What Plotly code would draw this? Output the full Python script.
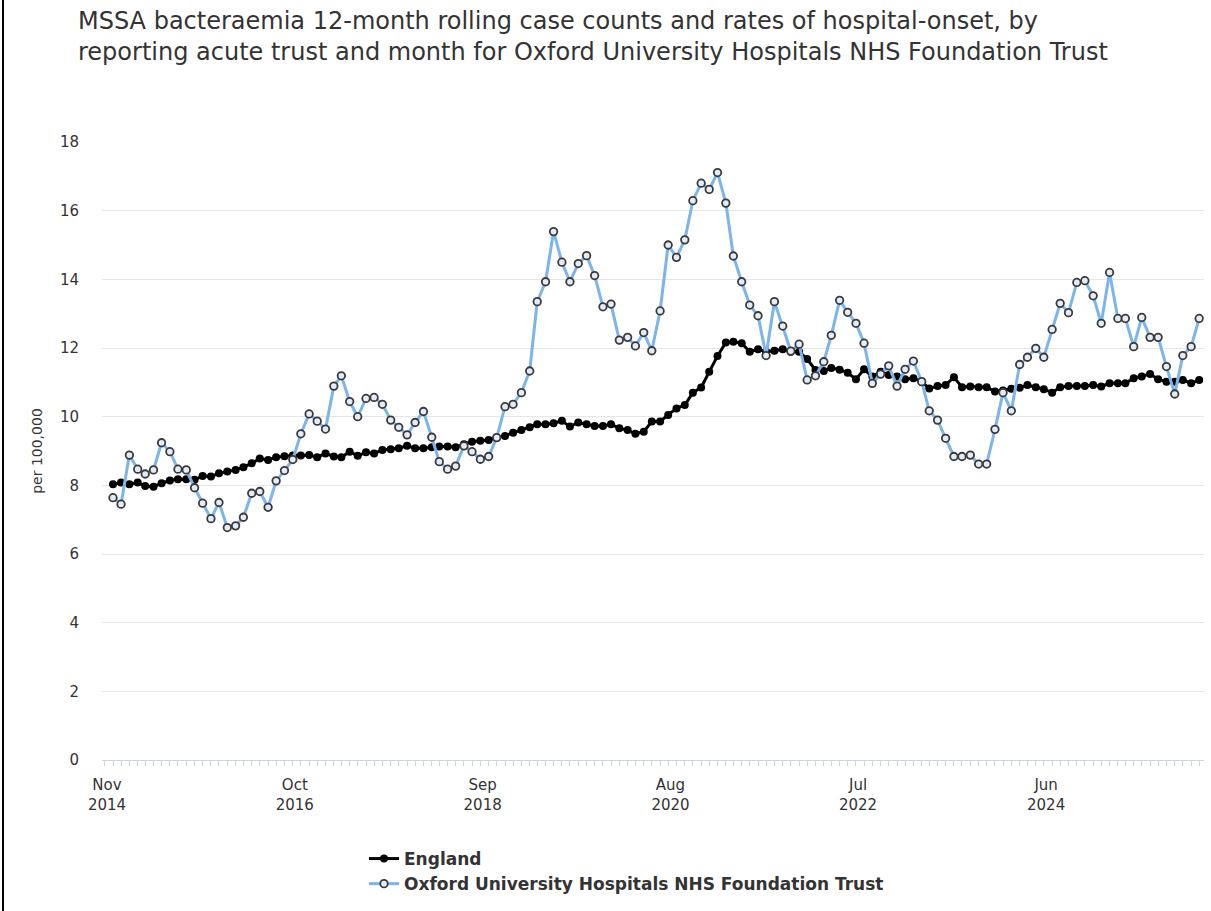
import pandas as pd
import plotly.graph_objects as go

months = pd.date_range("2014-11-01", periods=134, freq="MS")

england = [
    8.03, 8.08, 8.03, 8.08, 7.98, 7.96, 8.06, 8.14, 8.18, 8.18,
    8.16, 8.27, 8.26, 8.35, 8.40, 8.45, 8.53, 8.64, 8.78, 8.74,
    8.82, 8.85, 8.87, 8.87, 8.88, 8.82, 8.93, 8.84, 8.82, 8.98,
    8.86, 8.96, 8.93, 9.03, 9.05, 9.08, 9.15, 9.08, 9.08, 9.11,
    9.13, 9.13, 9.11, 9.20, 9.27, 9.30, 9.32, 9.39, 9.44, 9.53,
    9.61, 9.69, 9.78, 9.78, 9.81, 9.88, 9.71, 9.83, 9.78, 9.73,
    9.73, 9.78, 9.66, 9.61, 9.50, 9.56, 9.86, 9.86, 10.05, 10.24,
    10.34, 10.70, 10.85, 11.31, 11.77, 12.16, 12.18, 12.14, 11.89, 11.96,
    11.89, 11.92, 11.96, 11.89, 11.89, 11.68, 11.36, 11.33, 11.42, 11.37,
    11.28, 11.09, 11.38, 11.17, 11.31, 11.21, 11.17, 11.09, 11.12, 11.02,
    10.82, 10.89, 10.92, 11.15, 10.86, 10.88, 10.86, 10.86, 10.73, 10.76,
    10.81, 10.84, 10.92, 10.86, 10.80, 10.70, 10.86, 10.89, 10.89, 10.89,
    10.92, 10.88, 10.97, 10.97, 10.97, 11.12, 11.17, 11.24, 11.09, 11.02,
    11.02, 11.07, 10.97, 11.07,
]

oxford = [
    7.64, 7.45, 8.88, 8.47, 8.33, 8.45, 9.24, 8.98, 8.47, 8.45,
    7.93, 7.48, 7.03, 7.50, 6.77, 6.82, 7.07, 7.77, 7.82, 7.36,
    8.13, 8.43, 8.75, 9.50, 10.08, 9.87, 9.64, 10.89, 11.19, 10.44,
    10.00, 10.53, 10.56, 10.36, 9.90, 9.69, 9.47, 9.83, 10.15, 9.40,
    8.69, 8.47, 8.56, 9.15, 8.98, 8.76, 8.84, 9.39, 10.29, 10.36,
    10.70, 11.33, 13.35, 13.93, 15.39, 14.50, 13.93, 14.46, 14.69, 14.11,
    13.20, 13.28, 12.23, 12.31, 12.06, 12.45, 11.92, 13.08, 15.00, 14.64,
    15.15, 16.29, 16.80, 16.62, 17.11, 16.22, 14.68, 13.93, 13.25, 12.94,
    11.78, 13.35, 12.64, 11.91, 12.11, 11.07, 11.19, 11.60, 12.37, 13.39,
    13.04, 12.72, 12.14, 10.97, 11.24, 11.48, 10.89, 11.38, 11.62, 11.02,
    10.17, 9.90, 9.37, 8.84, 8.84, 8.88, 8.62, 8.62, 9.63, 10.70,
    10.17, 11.52, 11.73, 11.99, 11.73, 12.54, 13.30, 13.03, 13.91, 13.96,
    13.52, 12.72, 14.20, 12.86, 12.86, 12.04, 12.89, 12.31, 12.31, 11.46,
    10.66, 11.78, 12.04, 12.86,
]

tick_dates = ["2014-11-01", "2016-10-01", "2018-09-01", "2020-08-01", "2022-07-01", "2024-06-01"]
tick_labels = ["Nov<br>2014", "Oct<br>2016", "Sep<br>2018", "Aug<br>2020", "Jul<br>2022", "Jun<br>2024"]
y_ticks = [0, 2, 4, 6, 8, 10, 12, 14, 16, 18]
title_text = ("MSSA bacteraemia 12-month rolling case counts and rates of hospital-onset, by<br>"
              "reporting acute trust and month for Oxford University Hospitals NHS Foundation Trust")

FONT = "DejaVu Sans"
TXT = "#333333"

fig = go.Figure()
fig.add_trace(go.Scatter(
    x=months, y=england, name="England", mode="lines+markers",
    line=dict(color="#000000", width=3),
    marker=dict(color="#000000", size=8, symbol="circle"),
))
fig.add_trace(go.Scatter(
    x=months, y=oxford, name="Oxford University Hospitals NHS Foundation Trust",
    mode="lines+markers",
    line=dict(color="#7cb5ec", width=3),
    marker=dict(color="#e4ecf8", size=7.5, symbol="circle",
                line=dict(color="#3a3a3a", width=1.8)),
))

L, R, T, B = 102, 7, 142, 151
W = 1211 - L - R
H = 911 - T - B


def py(p):
    return (911 - B - p) / H


fig.update_layout(
    width=1211, height=911,
    margin=dict(l=L, r=R, t=T, b=B, pad=0),
    paper_bgcolor="white", plot_bgcolor="white",
    font=dict(family=FONT, color=TXT, size=14),
    showlegend=True,
    legend=dict(
        orientation="v", x=(364 - L) / W, xanchor="left",
        y=py(841), yanchor="top",
        font=dict(family=FONT, size=17, color=TXT, weight="bold"),
        bgcolor="rgba(0,0,0,0)", itemwidth=30, tracegroupgap=0,
    ),
    xaxis=dict(
        type="date",
        range=["2014-09-21", "2025-12-19"],
        tickvals=tick_dates, ticktext=tick_labels,
        showgrid=False, zeroline=False,
        showline=True, linecolor="#ccd6eb", linewidth=1,
        ticks="outside", ticklen=5, tickcolor="#ccd6eb",
        ticklabelstandoff=6, ticklabelshift=-6,
        minor=dict(dtick="M1", tick0="2014-11-01", ticks="outside", ticklen=5,
                   tickcolor="#ccd6eb", showgrid=False),
        tickfont=dict(family=FONT, size=15, color=TXT),
    ),
    yaxis=dict(
        range=[0, 18], tickvals=y_ticks,
        showgrid=True, gridcolor="#e6e6e6", gridwidth=1,
        zeroline=False, showline=False, ticks="",
        ticklabelstandoff=22,
        tickfont=dict(family=FONT, size=15, color=TXT),
        title=dict(text="per 100,000", font=dict(family=FONT, size=14, color=TXT), standoff=14),
    ),
    annotations=[
        dict(text=title_text, xref="paper", yref="paper",
             x=(76 - L) / W, xanchor="left", y=py(5), yanchor="top",
             align="left", showarrow=False,
             font=dict(family=FONT, size=24, color=TXT)),
    ],
    shapes=[
        dict(type="line", xref="paper", yref="paper",
             x0=(3 - L) / W, x1=(3 - L) / W, y0=py(911), y1=py(0),
             line=dict(color="#000000", width=2)),
    ],
)

fig.write_html("out.html", config={"displayModeBar": False},
               post_script="document.body.style.margin='0';")
